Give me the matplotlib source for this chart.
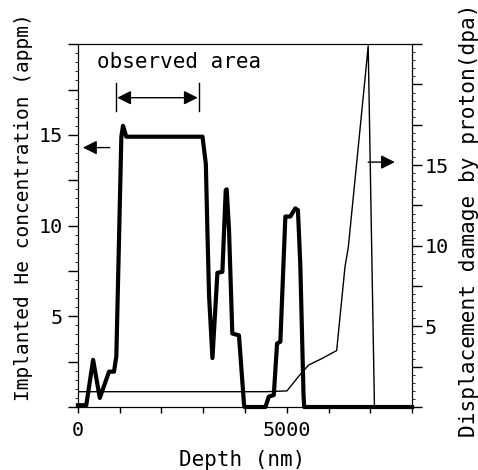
import numpy as np
import matplotlib
matplotlib.use("Agg")
import matplotlib.pyplot as plt
from matplotlib.ticker import MultipleLocator, FixedFormatter, FixedLocator

plt.rcParams['font.family'] = ['DejaVu Sans Mono', 'DejaVu Sans']

# implanted He (appm) vs depth (nm)
depth_he = [0, 200, 364, 524, 745, 864, 920, 1040, 1080, 1158, 2983, 3063, 3100, 3141,
            3221, 3340, 3459, 3539, 3562, 3618, 3697, 3856, 3975, 3990, 4490, 4570,
            4690, 4768, 4847, 4967, 5086, 5205, 5268, 5324, 5403, 5420, 8000]
he_appm = [0.1, 0.1, 2.6, 0.5, 1.95, 1.95, 2.8, 14.9, 15.5, 14.9, 14.9, 13.4, 9.75, 6.1,
           2.7, 7.4, 7.45, 11.95, 12.0, 9.75, 4.05, 3.95, 0.2, 0, 0, 0.57,
           0.66, 3.5, 3.6, 10.5, 10.5, 10.95, 10.85, 7.9, 0.57, 0, 0]

# displacement damage (dpa) vs depth (nm)
depth_dpa = [0, 4500, 5005, 5284, 5522, 5838, 6195, 6395, 6474, 6910, 6950, 7100, 8000]
dpa = [0.95, 0.95, 1.0, 1.9, 2.6, 3.0, 3.5, 8.7, 9.9, 21.3, 22.4, 0, 0]

x_ticks = [0, 1000, 2000, 3000, 4000, 5000, 6000, 7000, 8000]
x_labels = ['0', '', '', '', '', '5000', '', '', '']
y_ticks = [0, 2.5, 5, 7.5, 10, 12.5, 15, 17.5, 20]
y_labels = ['', '', '5', '', '10', '', '15', '', '']
y2_ticks = [0, 2.5, 5, 7.5, 10, 12.5, 15, 17.5, 20, 22.5]
y2_labels = ['', '', '5', '', '10', '', '15', '', '', '']

fig = plt.figure(figsize=(4.78, 4.70), dpi=100)
ax = fig.add_axes([0.163, 0.134, 0.699, 0.772])
ax2 = ax.twinx()

ax.plot(depth_he, he_appm, color='black', lw=3, clip_on=False, zorder=3)
ax2.plot(depth_dpa, dpa, color='black', lw=1)

ax.set_xlim(0, 8000)
ax.set_ylim(0, 20)
ax2.set_ylim(0, 22.5)

fs = 14.5
ax.xaxis.set_major_locator(FixedLocator(x_ticks))
ax.xaxis.set_major_formatter(FixedFormatter(x_labels))
ax.yaxis.set_major_locator(FixedLocator(y_ticks))
ax.yaxis.set_major_formatter(FixedFormatter(y_labels))
ax.yaxis.set_minor_locator(MultipleLocator(0.5))
ax2.yaxis.set_major_locator(FixedLocator(y2_ticks))
ax2.yaxis.set_major_formatter(FixedFormatter(y2_labels))
ax2.yaxis.set_minor_locator(MultipleLocator(0.5))

ax.tick_params(axis='both', direction='out', length=7, width=1, labelsize=fs, pad=4)
ax.tick_params(axis='x', length=4, pad=6)
ax.tick_params(axis='y', which='minor', length=2, width=0.6)
ax2.tick_params(axis='y', direction='out', length=7, width=1, labelsize=fs, pad=2)
ax2.tick_params(axis='y', which='minor', length=2, width=0.6)

ax.set_xlabel('Depth (nm)', fontsize=15)
ax.xaxis.set_label_coords(0.49, -0.118)
ax.set_ylabel('Implanted He concentration (appm)', fontsize=14)
ax.yaxis.set_label_coords(-0.135, 0.551)
ax2.set_ylabel('Displacement damage by proton(dpa)', fontsize=15.2, rotation=90)
ax2.yaxis.set_label_coords(1.14, 0.515)

# annotations
ax.text(0.057, 0.95, 'observed area', transform=ax.transAxes, fontsize=15,
        ha='left', va='center')
head = '-|>,head_length=0.6,head_width=0.3'
ax.annotate('', xy=(940, 17.05), xytext=(2870, 17.05),
            arrowprops=dict(arrowstyle='<|-|>,head_length=0.6,head_width=0.3',
                            color='black', lw=1, mutation_scale=14, shrinkA=0, shrinkB=0))
ax.plot([920, 920], [16.3, 17.85], color='black', lw=1)
ax.plot([2890, 2890], [16.3, 17.85], color='black', lw=1)
ax.annotate('', xy=(120, 14.3), xytext=(760, 14.3),
            arrowprops=dict(arrowstyle=head, color='black', lw=1, mutation_scale=14,
                            shrinkA=0, shrinkB=0))
ax.annotate('', xy=(7590, 13.5), xytext=(6950, 13.5),
            arrowprops=dict(arrowstyle=head, color='black', lw=1, mutation_scale=14,
                            shrinkA=0, shrinkB=0))

fig.savefig('out.png', dpi=100)
